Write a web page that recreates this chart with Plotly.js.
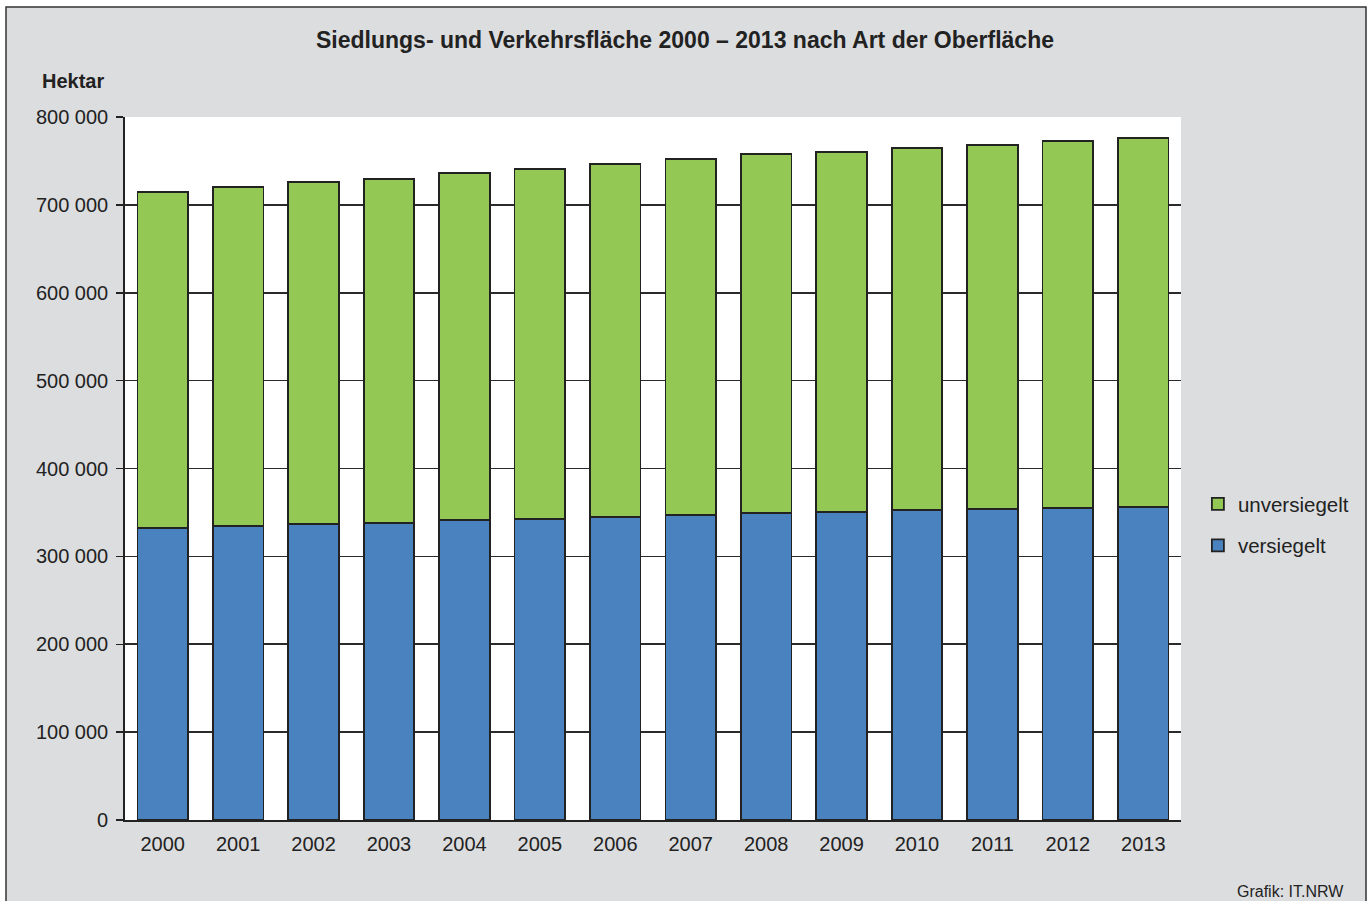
<!DOCTYPE html>
<html><head><meta charset="utf-8">
<script src="https://cdn.plot.ly/plotly-3.0.1.min.js"></script>
<style>html,body{margin:0;padding:0;background:#fff;}#chart{width:1370px;height:901px;}</style>
</head><body><div id="chart"></div>
<script>
const years = ['2000','2001','2002','2003','2004','2005','2006','2007','2008','2009','2010','2011','2012','2013'];
const totals = [714700, 720000, 726000, 729400, 736600, 740800, 746500, 751900, 757500, 760500, 765000, 768500, 772300, 775800];
const versiegelt = [332000, 334200, 336800, 338000, 341400, 342900, 345200, 347400, 349400, 350900, 352400, 354300, 355000, 356200];
const unversiegelt = totals.map((t, i) => t - versiegelt[i]);
const yTicks = [0, 100000, 200000, 300000, 400000, 500000, 600000, 700000, 800000];

const font = 'Liberation Sans, Arial, sans-serif';
const data = [
  {type:'bar', name:'versiegelt', x:years, y:versiegelt, legendgroup:'b', legendrank:2,
   marker:{color:'#4a81bf', line:{color:'#222', width:1.8}}, hoverinfo:'y'},
  {type:'bar', name:'unversiegelt', x:years, y:unversiegelt, legendgroup:'a', legendrank:1,
   marker:{color:'#92c853', line:{color:'#222', width:1.8}}, hoverinfo:'y'}
];
const layout = {
  width:1370, height:901,
  margin:{l:125, r:189, t:117, b:81},
  paper_bgcolor:'#ffffff', plot_bgcolor:'#ffffff',
  barmode:'stack', bargap:0.33,
  separators:', ',
  font:{family:font, color:'#222', size:20},
  title:{text:'<b>Siedlungs- und Verkehrsfläche 2000 – 2013 nach Art der Oberfläche</b>',
         font:{family:font, size:23, color:'#222'}, x:0.5, xanchor:'center', xref:'container',
         y:1-40/901, yanchor:'middle'},
  xaxis:{type:'category', showline:true, linecolor:'#222', linewidth:1.8, ticks:'outside', ticklen:5,
         tickcolor:'rgba(0,0,0,0)', tickfont:{size:20, color:'#222'}, showgrid:false, fixedrange:true},
  yaxis:{range:[0,800000], tickvals:yTicks, tickformat:',d', showgrid:true, gridcolor:'#2a2a2a', gridwidth:1.6,
         showline:true, linecolor:'#222', linewidth:1.8, ticks:'outside', ticklen:7, tickcolor:'#222', tickwidth:1.5,
         ticklabelstandoff:4,
         tickfont:{size:20, color:'#222'}, zeroline:false, fixedrange:true},
  showlegend:true,
  legend:{x:1.016, xanchor:'left', y:0.478, yanchor:'top', traceorder:'grouped', tracegroupgap:12,
          bgcolor:'rgba(0,0,0,0)', font:{size:20.5, color:'#222'}, itemwidth:30},
  shapes:[
    {type:'rect', xref:'paper', yref:'paper', x0:(6-125)/1056, x1:(1366-125)/1056, y0:(820-910)/703, y1:(820-7)/703,
     fillcolor:'#dcdddf', line:{color:'#333', width:1.5}, layer:'below'},
    {type:'rect', xref:'paper', yref:'paper', x0:0, x1:1, y0:0, y1:1,
     fillcolor:'#ffffff', line:{width:0}, layer:'below'}
  ],
  annotations:[
    {text:'<b>Hektar</b>', xref:'paper', yref:'paper', x:(106-125)/1056, y:(820-81)/703, xanchor:'right', yanchor:'middle',
     showarrow:false, font:{size:20, color:'#222'}},
    {text:'Grafik: IT.NRW', xref:'paper', yref:'paper', x:(1346-125)/1056, y:(820-891)/703, xanchor:'right', yanchor:'middle',
     showarrow:false, font:{size:16, color:'#222'}}
  ]
};
Plotly.newPlot('chart', data, layout, {displayModeBar:false, staticPlot:true});
</script></body></html>
